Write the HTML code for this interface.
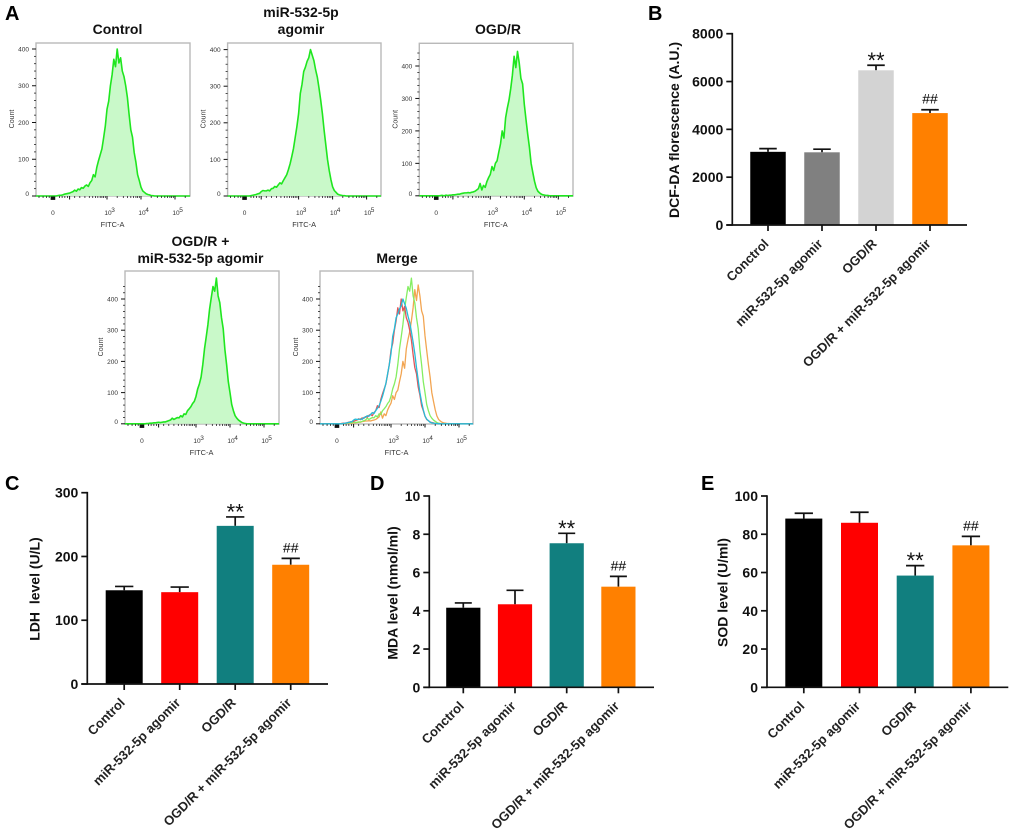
<!DOCTYPE html>
<html lang="en">
<head>
<meta charset="utf-8">
<title>miR-532-5p agomir flow cytometry and oxidative stress panels</title>
<style>
html,body{margin:0;padding:0;background:#fff;}
#figure{display:block;width:1020px;height:835px;font-family:"Liberation Sans",sans-serif;filter:blur(0.35px);}
.letter{font-size:20px;font-weight:700;fill:#000;}
.title{font-size:14px;font-weight:700;fill:#111;text-anchor:middle;}
</style>
</head>
<body>
<svg id="figure" xmlns="http://www.w3.org/2000/svg" width="1020" height="835" viewBox="0 0 1020 835">
  <rect x="0" y="0" width="1020" height="835" fill="#fff"/>
  <text class="letter" x="5" y="20">A</text>
  <text class="letter" x="648" y="20">B</text>
  <text class="letter" x="5" y="490">C</text>
  <text class="letter" x="370" y="490">D</text>
  <text class="letter" x="701" y="490">E</text>
  <text class="title" x="117.5" y="34">Control</text>
  <text class="title" x="301" y="17">miR-532-5p</text>
  <text class="title" x="301" y="34">agomir</text>
  <text class="title" x="498" y="34">OGD/R</text>
  <text class="title" x="200.5" y="246">OGD/R +</text>
  <text class="title" x="200.5" y="263">miR-532-5p agomir</text>
  <text class="title" x="397" y="263">Merge</text>
  <g id="flow-layer"></g>
  <g id="bar-layer"></g>
</svg>
<script>
// Histogram bins start at display position 1.5 decades and advance 0.05 per value.
const binStart = 1.5;
const binStep = 0.05;
const controlCounts = [0,1,2,2,3,5,6,7,8,10,12,16,13,19,17,23,21,27,30,26,36,42,58,52,78,96,112,128,158,190,236,258,300,330,372,352,400,362,376,340,325,300,268,222,180,160,118,92,58,42,24,14,10,6,4,3,1,1,0];
const agomirCounts = [0,0,1,2,3,4,6,7,12,15,14,14,16,14,20,21,26,24,30,36,33,42,50,58,72,88,108,130,160,190,225,280,305,340,352,368,378,400,385,370,345,325,295,262,225,180,140,100,70,45,25,15,10,5,3,2,1,1,0];
const ogdrCounts = [0,1,1,0,2,1,2,2,3,3,4,5,5,7,8,9,9,10,9,11,12,14,18,22,38,18,32,26,44,56,66,90,78,100,108,135,160,200,178,240,270,295,330,372,430,395,445,410,362,345,282,235,190,150,100,72,45,25,14,9,5,3,2,1,1,0];
const comboCounts = [0,1,1,2,2,3,3,4,5,4,5,6,6,8,10,12,18,14,17,20,19,26,22,32,30,42,48,55,65,72,88,112,128,150,190,240,278,318,368,405,440,425,467,410,388,340,305,238,190,135,100,62,42,26,18,12,8,4,2,1,0];
const flowCountTicks = [0,100,200,300,400];
const flowCountMinorTicks = [20,40,60,80,120,140,160,180,220,240,260,280,320,340,360,380,420,440];
const flowDecadeTicks = [3,4,5];
const flowDecadeLabels = ['3','4','5'];
const flowMinorTicks = [1.0,1.12,1.22,1.3,1.6,1.68,1.76,1.84,2.05,2.2,2.35,2.48,2.58,2.66,2.73,2.8,2.85,2.9,2.95,3.3,3.48,3.6,3.7,3.78,3.85,3.9,3.95,4.3,4.48,4.6,4.7,4.78,4.85,4.9,4.95,5.3];

const bCategories = ['Conctrol','miR-532-5p agomir','OGD/R','OGD/R + miR-532-5p agomir'];
const bValues = [3060,3040,6470,4680];
const bErrors = [135,130,210,140];
const bTicks = [0,2000,4000,6000,8000];
const bMarks = ['','','**','##'];
const bColors = ['#000000','#808080','#d3d3d3','#ff8000'];

const cCategories = ['Control','miR-532-5p agomir','OGD/R','OGD/R + miR-532-5p agomir'];
const cValues = [147,144,248,187];
const cErrors = [6,8,14,10];
const cTicks = [0,100,200,300];
const cMarks = ['','','**','##'];
const cColors = ['#000000','#ff0000','#117f7f','#ff8000'];

const dCategories = ['Conctrol','miR-532-5p agomir','OGD/R','OGD/R + miR-532-5p agomir'];
const dValues = [4.16,4.34,7.53,5.26];
const dErrors = [0.25,0.73,0.52,0.54];
const dTicks = [0,2,4,6,8,10];
const dMarks = ['','','**','##'];
const dColors = ['#000000','#ff0000','#117f7f','#ff8000'];

const eCategories = ['Control','miR-532-5p agomir','OGD/R','OGD/R + miR-532-5p agomir'];
const eValues = [88.2,86,58.4,74.2];
const eErrors = [2.8,5.5,5.2,4.7];
const eTicks = [0,20,40,60,80,100];
const eMarks = ['','','**','##'];
const eColors = ['#000000','#ff0000','#117f7f','#ff8000'];

const SVG_NS = 'http://www.w3.org/2000/svg';
function make(tag, attrs, parent, text) {
  const node = document.createElementNS(SVG_NS, tag);
  for (const key in attrs) node.setAttribute(key, attrs[key]);
  if (text !== undefined) node.textContent = text;
  parent.appendChild(node);
  return node;
}

function curvePoints(counts, xScale, yScale) {
  return counts.map(function (c, i) {
    return xScale(binStart + i * binStep).toFixed(2) + ',' + yScale(c).toFixed(2);
  });
}

function drawFlowPanel(slug, frame, curves, filled) {
  const layer = document.getElementById('flow-layer');
  const g = make('g', {}, layer);
  
  
  const xScale = function (d) { return frame.left + 71 + (d - 3) * 34; };
  const yScale = function (c) { return frame.y0 - (c / 400) * (frame.y0 - frame.y400); };

  const box = make('rect', {x: frame.left, y: frame.top, width: frame.right - frame.left, height: frame.bottom - frame.top, fill: '#fff', stroke: '#b9b9b9', 'stroke-width': 1.4}, g);
  
  

  curves.forEach(function (curve) {
    const pts = curvePoints(curve.counts, xScale, yScale);
    const line = [frame.left + ',' + frame.y0].concat(pts, [frame.right + ',' + frame.y0]);
    if (filled) {
      const area = make('polygon', {points: line.join(' '), fill: '#c9f9c9', stroke: 'none'}, g);
      
      
    }
    const path = make('polyline', {points: line.join(' '), fill: 'none', stroke: curve.color, 'stroke-width': filled ? 1.6 : 1.3, 'stroke-linejoin': 'round'}, g);
    
    
  });

  flowCountMinorTicks.forEach(function (c) {
    if (yScale(c) < frame.top) return;
    const t = make('line', {x1: frame.left - 2, x2: frame.left, y1: yScale(c), y2: yScale(c), stroke: '#222', 'stroke-width': 0.8}, g);
    
    
  });
  flowCountTicks.forEach(function (c) {
    const t = make('line', {x1: frame.left - 4, x2: frame.left, y1: yScale(c), y2: yScale(c), stroke: '#111', 'stroke-width': 1}, g);
    
    
    const label = make('text', {x: frame.left - 7, y: yScale(c) + (c === 0 ? 0 : 2.4), 'font-size': 6.5, fill: '#333', 'text-anchor': 'end'}, g, String(c));
    
    
  });
  const yTitle = make('text', {transform: 'translate(' + (frame.left - 22) + ',' + (frame.top + 76) + ') rotate(-90)', 'font-size': 7, fill: '#333', 'text-anchor': 'middle'}, g, 'Count');
  
  

  flowMinorTicks.forEach(function (d) {
    const t = make('line', {x1: xScale(d), x2: xScale(d), y1: frame.bottom, y2: frame.bottom + 2, stroke: '#222', 'stroke-width': 0.8}, g);
    
    
  });
  flowDecadeTicks.forEach(function (d, i) {
    const t = make('line', {x1: xScale(d), x2: xScale(d), y1: frame.bottom, y2: frame.bottom + 3.5, stroke: '#111', 'stroke-width': 1}, g);
    
    
    const base = make('text', {x: xScale(d) + 1, y: frame.bottom + 19, 'font-size': 6.5, fill: '#333', 'text-anchor': 'middle'}, g, '10');
    
    
    const power = make('text', {x: xScale(d) + 6, y: frame.bottom + 16, 'font-size': 6.5, fill: '#333', 'text-anchor': 'middle'}, g, flowDecadeLabels[i]);
    
    
  });
  const zero = make('rect', {x: xScale(1.41) - 2.3, y: frame.bottom + 0.5, width: 4.6, height: 3.4, fill: '#111'}, g);
  
  
  const near = make('line', {x1: xScale(1.9), x2: xScale(1.9), y1: frame.bottom, y2: frame.bottom + 3.5, stroke: '#111', 'stroke-width': 1}, g);
  
  
  const zeroLabel = make('text', {x: xScale(1.41), y: frame.bottom + 19, 'font-size': 6.5, fill: '#333', 'text-anchor': 'middle'}, g, '0');
  
  
  const xTitle = make('text', {x: frame.left + 76.5, y: frame.bottom + 31, 'font-size': 7.4, fill: '#333', 'text-anchor': 'middle'}, g, 'FITC-A');
  
  
}

const flowGreen = '#1fe61f';
drawFlowPanel('control', {left: 36, right: 190, top: 43, bottom: 196, y0: 196, y400: 49},
  [{name: 'control', counts: controlCounts, color: flowGreen}], true);
drawFlowPanel('agomir', {left: 227.6, right: 381, top: 43, bottom: 196, y0: 196, y400: 49.6},
  [{name: 'agomir', counts: agomirCounts, color: flowGreen}], true);
drawFlowPanel('ogdr', {left: 419.3, right: 573, top: 43.3, bottom: 196, y0: 195.8, y400: 66},
  [{name: 'ogdr', counts: ogdrCounts, color: flowGreen}], true);
drawFlowPanel('combo', {left: 125, right: 279, top: 271, bottom: 424, y0: 423.8, y400: 299},
  [{name: 'combo', counts: comboCounts, color: flowGreen}], true);
drawFlowPanel('merge', {left: 320, right: 473, top: 271, bottom: 424, y0: 423.8, y400: 299},
  [{name: 'ogdr', counts: ogdrCounts, color: '#f2a552'},
   {name: 'combo', counts: comboCounts, color: '#84ee62'},
   {name: 'control', counts: controlCounts, color: '#e2545a'},
   {name: 'agomir', counts: agomirCounts, color: '#25bcd8'}], false);

function drawBarChart(slug, frame, title, categories, values, errors, ticks, marks, colors) {
  const layer = document.getElementById('bar-layer');
  const g = make('g', {}, layer);
  
  
  const top = ticks[ticks.length - 1];
  const yScale = function (v) { return frame.y0 - (v / top) * (frame.y0 - frame.yTop); };
  const xScale = function (i) { return frame.x0 + frame.first + i * frame.step; };

  values.forEach(function (v, i) {
    const cx = xScale(i);
    const cap = yScale(v + errors[i]);
    const stem = make('line', {x1: cx, x2: cx, y1: yScale(v), y2: cap, stroke: '#111', 'stroke-width': 1.7}, g);
    
    
    const capLine = make('line', {x1: cx - frame.cap / 2, x2: cx + frame.cap / 2, y1: cap, y2: cap, stroke: '#111', 'stroke-width': 1.7}, g);
    
    
    const bar = make('rect', {x: cx - frame.barWidth / 2, y: yScale(v), width: frame.barWidth, height: frame.y0 - yScale(v), fill: colors[i]}, g);
    
    
    if (marks[i] === '**') {
      const stars = make('text', {x: cx, y: cap + 2.5, 'font-size': 22, fill: '#111', 'text-anchor': 'middle'}, g, marks[i]);
      
      
    } else if (marks[i]) {
      const hashes = make('text', {x: cx, y: cap - 6, 'font-size': 14, fill: '#000', 'text-anchor': 'middle'}, g, marks[i]);
      
      
    }
    const tick = make('line', {x1: cx, x2: cx, y1: frame.y0, y2: frame.y0 + 6, stroke: '#111', 'stroke-width': 1.7}, g);
    
    
    const label = make('text', {transform: 'translate(' + (cx + 1.5) + ',' + (frame.y0 + 19.5) + ') rotate(-45)', 'font-size': 13, 'font-weight': 700, fill: '#222', 'text-anchor': 'end'}, g, categories[i]);
    
    
  });

  const yAxis = make('line', {x1: frame.x0, x2: frame.x0, y1: frame.yTop - 0.8, y2: frame.y0 + 0.8, stroke: '#111', 'stroke-width': 1.7}, g);
  
  
  const xAxis = make('line', {x1: frame.x0 - 6, x2: frame.xEnd, y1: frame.y0, y2: frame.y0, stroke: '#111', 'stroke-width': 1.7}, g);
  
  

  ticks.forEach(function (t) {
    const mark = make('line', {x1: frame.x0 - 6, x2: frame.x0, y1: yScale(t), y2: yScale(t), stroke: '#111', 'stroke-width': 1.7}, g);
    
    
    const label = make('text', {x: frame.x0 - 9, y: yScale(t) + 5, 'font-size': 14, 'font-weight': 700, fill: '#111', 'text-anchor': 'end'}, g, String(t));
    
    
  });

  const yTitle = make('text', {transform: 'translate(' + frame.titleX + ',' + frame.titleY + ') rotate(-90)', 'font-size': 14, 'font-weight': 700, fill: '#111', 'text-anchor': 'middle', 'xml:space': 'preserve', style: 'white-space:pre'}, g, title);
  
  
}

drawBarChart('dcf-da', {x0: 732.3, xEnd: 967, y0: 225, yTop: 33.7, first: 35.7, step: 54, barWidth: 35.5, cap: 17.5, titleX: 679, titleY: 130},
  'DCF-DA florescence (A.U.)', bCategories, bValues, bErrors, bTicks, bMarks, bColors);
drawBarChart('ldh', {x0: 87.3, xEnd: 328, y0: 684, yTop: 492.7, first: 36.9, step: 55.5, barWidth: 37, cap: 18.3, titleX: 39.3, titleY: 589},
  'LDH  level (U/L)', cCategories, cValues, cErrors, cTicks, cMarks, cColors);
drawBarChart('mda', {x0: 429.3, xEnd: 654, y0: 687.3, yTop: 496, first: 34, step: 51.7, barWidth: 34.2, cap: 17, titleX: 397.7, titleY: 593},
  'MDA level (nmol/ml)', dCategories, dValues, dErrors, dTicks, dMarks, dColors);
drawBarChart('sod', {x0: 767, xEnd: 1008.3, y0: 687.3, yTop: 496, first: 36.8, step: 55.7, barWidth: 37, cap: 18.3, titleX: 727.7, titleY: 592.5},
  'SOD level (U/ml)', eCategories, eValues, eErrors, eTicks, eMarks, eColors);
</script>
</body>
</html>
